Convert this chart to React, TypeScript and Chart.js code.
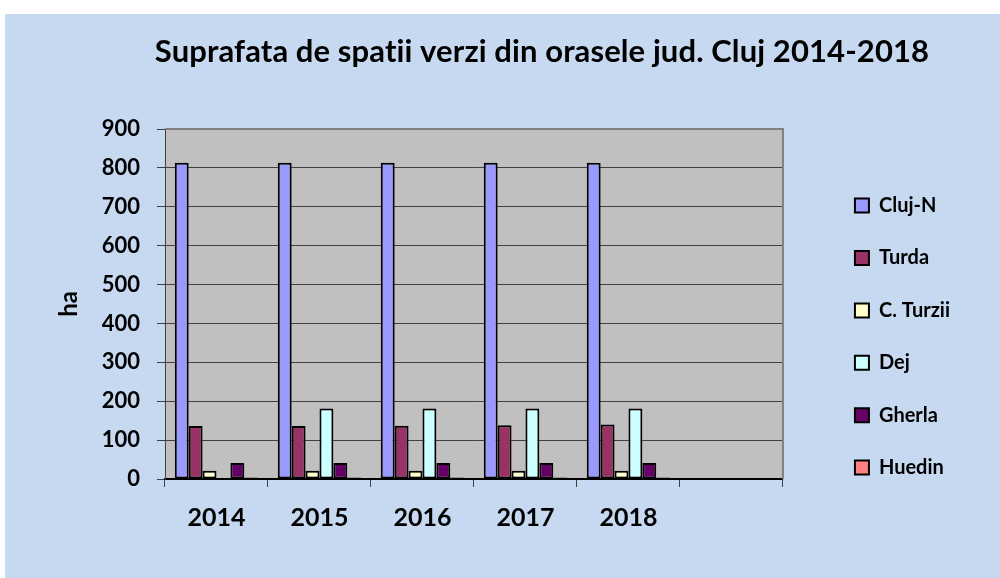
import { useEffect, useRef } from 'react';
import { Chart, registerables } from 'chart.js';

Chart.register(...registerables);

const titleText = 'Suprafata de spatii verzi din orasele jud. Cluj 2014-2018';
const yAxisTitle = 'ha';
const categories = ['2014', '2015', '2016', '2017', '2018', ''];
const seriesNames = ['Cluj-N', 'Turda', 'C. Turzii', 'Dej', 'Gherla', 'Huedin'];
const clujN = [813, 813, 813, 813, 813, null];
const turda = [136, 136, 137, 138, 140, null];
const cTurzii = [21, 21, 21, 21, 21, null];
const dej = [null, 181, 181, 181, 181, null];
const gherla = [41, 41, 41, 41, 41, null];
const huedin = [4, 4, 4, 4, 4, null];
const seriesColors = ['#9999FF', '#993366', '#FFFFCC', '#CCFFFF', '#660066', '#FF8080'];
const yTicks = [0, 100, 200, 300, 400, 500, 600, 700, 800, 900];

const FONT = 'Lato';

const decor = {
  id: 'decor',
  beforeDraw(chart: any) {
    const { ctx, chartArea: a } = chart;
    ctx.save();
    ctx.fillStyle = '#C0C0C0';
    ctx.fillRect(a.left, a.top, a.right - a.left, a.bottom - a.top);
    ctx.restore();
  },
  beforeDatasetsDraw(chart: any) {
    const { ctx, chartArea: a } = chart;
    ctx.save();
    ctx.strokeStyle = '#808080';
    ctx.lineWidth = 2;
    ctx.beginPath();
    ctx.moveTo(a.left, a.top);
    ctx.lineTo(a.right, a.top);
    ctx.lineTo(a.right, a.bottom);
    ctx.stroke();
    ctx.restore();
  },
  afterDraw(chart: any) {
    const { ctx } = chart;
    ctx.save();
    ctx.fillStyle = '#000';
    ctx.font = `bold 31px ${FONT}`;
    try { (ctx as any).letterSpacing = '0.1px'; } catch (e) { /* ignore */ }
    ctx.textAlign = 'center';
    ctx.textBaseline = 'alphabetic';
    ctx.fillText(titleText, 537, 48);
    ctx.restore();
  },
};

export default function App() {
  const ref = useRef<HTMLCanvasElement>(null);
  useEffect(() => {
    const series = [clujN, turda, cTurzii, dej, gherla, huedin];
    const chart = new Chart(ref.current as HTMLCanvasElement, {
      type: 'bar',
      data: {
        labels: categories,
        datasets: series.map((d, i) => ({
          label: seriesNames[i],
          data: d,
          backgroundColor: seriesColors[i],
          borderColor: '#000',
          borderWidth: 2,
          borderSkipped: false,
          categoryPercentage: 0.81,
          barPercentage: 1,
        })),
      },
      options: {
        responsive: false,
        animation: false,
        devicePixelRatio: 1,
        layout: { padding: { left: 0, top: 115, right: 40, bottom: 47 } },
        plugins: {
          title: { display: false },
          tooltip: { enabled: false },
          legend: {
            position: 'right',
            align: 'center',
            fullSize: true,
            title: { display: true, text: '', font: { size: 1 }, padding: { top: 12, bottom: 0 } },
            labels: {
              boxWidth: 14,
              boxHeight: 14,
              padding: 32.4,
              color: '#000',
              font: { family: FONT, size: 20, weight: 'bold' },
            },
          },
        },
        scales: {
          x: {
            offset: true,
            afterFit: (s: any) => { s.height = 52; },
            ticks: { padding: 15.6, maxRotation: 0, color: '#000', font: { family: FONT, size: 25, weight: 'bold' } },
            grid: { offset: true, drawOnChartArea: false, drawTicks: true, tickLength: 8, color: '#404040' },
            border: { color: '#000', width: 2 },
          },
          y: {
            min: yTicks[0],
            max: yTicks[yTicks.length - 1],
            afterFit: (s: any) => { s.width = 160; },
            afterBuildTicks: (s: any) => { s.ticks = yTicks.map((v) => ({ value: v })); },
            ticks: { padding: 17, color: '#000', font: { family: FONT, size: 22, weight: 'bold' } },
            grid: { color: '#404040', lineWidth: 1, tickLength: 8, tickColor: '#404040' },
            border: { color: '#404040', width: 1 },
            title: {
              display: true,
              text: yAxisTitle,
              color: '#000',
              font: { family: FONT, size: 24, weight: 'bold' },
              padding: { top: 50, bottom: 0 },
            },
          },
          y2: {
            position: 'right',
            display: true,
            afterFit: (s: any) => { s.width = 39.6; },
            ticks: { display: false },
            grid: { drawOnChartArea: false, drawTicks: false },
            border: { display: false },
          },
        },
      },
      plugins: [decor],
    } as any);
    return () => chart.destroy();
  }, []);
  return (
    <div style={{ position: 'absolute', left: 5, top: 14, width: 995, height: 564, background: '#C6D9F0' }}>
      <canvas ref={ref} width={995} height={564} style={{ display: 'block', width: 995, height: 564 }} />
    </div>
  );
}
